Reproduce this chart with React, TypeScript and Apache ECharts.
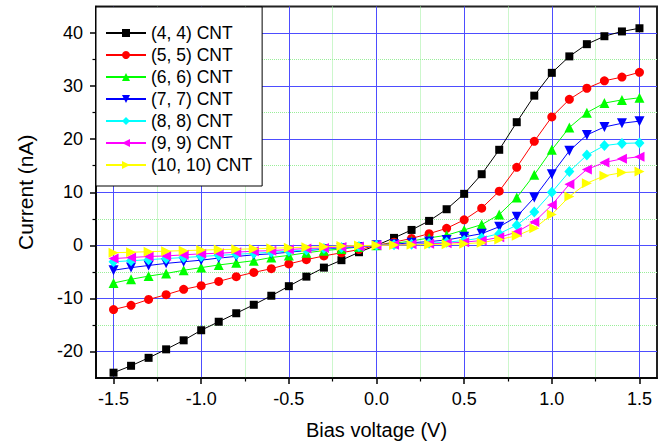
import React, { useEffect, useRef } from 'react';
import * as echarts from 'echarts';

const voltages = [
  -1.5, -1.4, -1.3, -1.2, -1.1, -1.0, -0.9, -0.8, -0.7, -0.6, -0.5, -0.4, -0.3, -0.2, -0.1, 0.0,
  0.1, 0.2, 0.3, 0.4, 0.5, 0.6, 0.7, 0.8, 0.9, 1.0, 1.1, 1.2, 1.3, 1.4, 1.5,
];

const cnt44 = [
  -24.0, -22.7, -21.2, -19.6, -17.9, -16.0, -14.4, -12.8, -11.2, -9.5, -7.7, -5.9, -4.2, -2.8, -1.3, 0.0,
  1.4, 2.9, 4.6, 6.8, 9.7, 13.4, 18.0, 23.2, 28.2, 32.5, 35.6, 37.9, 39.4, 40.3, 40.9,
];
const cnt55 = [
  -12.1, -11.3, -10.2, -9.3, -8.3, -7.6, -6.8, -5.9, -5.1, -4.4, -3.5, -2.7, -2.0, -1.4, -0.8, 0.0,
  0.6, 1.3, 2.2, 3.2, 4.8, 7.0, 10.2, 14.7, 19.6, 24.2, 27.5, 29.6, 31.0, 31.7, 32.6,
];
const cnt66 = [
  -7.1, -6.4, -5.8, -5.3, -4.7, -4.2, -3.7, -3.3, -2.9, -2.3, -1.9, -1.4, -1.0, -0.7, -0.3, 0.0,
  0.4, 0.8, 1.4, 1.9, 2.9, 3.9, 5.8, 9.0, 13.3, 18.0, 22.2, 25.0, 26.8, 27.4, 27.8,
];
const cnt77 = [
  -4.7, -4.2, -3.8, -3.4, -3.1, -2.8, -2.4, -2.1, -1.8, -1.6, -1.3, -1.0, -0.7, -0.5, -0.3, 0.0,
  0.2, 0.5, 0.7, 1.0, 1.6, 2.2, 3.5, 5.4, 9.0, 13.4, 17.8, 20.8, 22.3, 23.0, 23.4,
];
const cnt88 = [
  -3.1, -2.9, -2.7, -2.5, -2.3, -2.1, -1.9, -1.7, -1.5, -1.3, -1.1, -0.9, -0.6, -0.4, -0.2, 0.0,
  0.1, 0.2, 0.4, 0.6, 0.9, 1.4, 2.2, 3.8, 6.3, 10.0, 13.9, 17.0, 18.8, 19.2, 19.3,
];
const cnt99 = [
  -2.5, -2.3, -2.1, -2.0, -1.8, -1.6, -1.5, -1.3, -1.1, -1.0, -0.8, -0.6, -0.5, -0.3, -0.2, 0.0,
  0.1, 0.2, 0.3, 0.4, 0.6, 0.9, 1.5, 2.5, 4.4, 7.6, 11.5, 14.3, 15.6, 16.3, 16.7,
];
const cnt1010 = [
  -1.4, -1.3, -1.2, -1.1, -1.0, -0.9, -0.8, -0.75, -0.65, -0.55, -0.45, -0.35, -0.25, -0.15, -0.05, 0.0,
  0.05, 0.1, 0.15, 0.2, 0.3, 0.5, 1.1, 1.8, 3.2, 5.8, 9.2, 11.7, 13.1, 13.7, 13.9,
];

const seriesNames = ['(4, 4) CNT', '(5, 5) CNT', '(6, 6) CNT', '(7, 7) CNT', '(8, 8) CNT', '(9, 9) CNT', '(10, 10) CNT'];
const seriesValues = [cnt44, cnt55, cnt66, cnt77, cnt88, cnt99, cnt1010];
const seriesColors = ['#000000', '#ff0000', '#00ff00', '#0000ff', '#00ffff', '#ff00ff', '#ffff00'];
const seriesSymbols = [
  'rect',
  'circle',
  'triangle',
  'path://M0,0L10,0L5,9Z',
  'diamond',
  'path://M0,5L9,0L9,10Z',
  'path://M0,0L9,5L0,10Z',
];
const seriesSymbolSizes: any[] = [8, 9, 10, 10, [10, 11], 10, 10];

const majorX = [-1.5, -1.0, -0.5, 0, 0.5, 1.0, 1.5];
const minorX = [-1.25, -0.75, -0.25, 0.25, 0.75, 1.25];
const majorY = [-20, -10, 0, 10, 20, 30, 40];
const minorY = [-15, -5, 5, 15, 25, 35];

const FONT = 'Liberation Sans, Arial, sans-serif';

export default function App() {
  const ref = useRef<HTMLDivElement>(null);

  useEffect(() => {
    if (!ref.current) return;
    const chart = echarts.init(ref.current, undefined, { renderer: 'svg' });

    const series: any[] = seriesNames.map((name, k) => ({
      name,
      type: 'line',
      data: voltages.map((v, i) => [v, seriesValues[k][i]]),
      symbol: seriesSymbols[k],
      symbolSize: seriesSymbolSizes[k],
      showSymbol: true,
      itemStyle: { color: seriesColors[k] },
      lineStyle: { color: seriesColors[k], width: 1 },
      z: 3,
      silent: true,
    }));

    chart.setOption({
      animation: false,
      grid: {
        left: 96,
        right: 12,
        top: 6.5,
        bottom: 67,
        show: true,
        borderColor: '#222',
        borderWidth: 2,
        backgroundColor: 'transparent',
      },
      legend: {
        orient: 'vertical',
        left: 96,
        top: 7,
        itemWidth: 40,
        itemHeight: 10,
        itemGap: 4,
        padding: [17, 10, 12, 9],
        backgroundColor: '#fff',
        borderColor: '#000',
        borderWidth: 1,
        selectedMode: false,
        textStyle: { fontSize: 17.5, fontFamily: FONT, color: '#000' },
        data: seriesNames,
      },
      xAxis: [
        {
          type: 'value',
          min: -1.6,
          max: 1.6,
          position: 'bottom',
          z: 1,
          axisLine: { show: true, onZero: false, lineStyle: { color: '#000', width: 1.5 } },
          axisTick: { show: true, inside: false, length: 6, customValues: majorX, lineStyle: { color: '#000', width: 1.5 } },
          axisLabel: {
            customValues: majorX,
            formatter: (v: number) => v.toFixed(1),
            fontSize: 18,
            fontFamily: FONT,
            color: '#000',
            margin: 12,
          },
          splitLine: { show: true, lineStyle: { color: '#4d4dff', width: 1 } },
          name: 'Bias voltage (V)',
          nameLocation: 'middle',
          nameGap: 42,
          nameTextStyle: { fontSize: 20, fontFamily: FONT, color: '#000' },
        },
        {
          type: 'value',
          min: -1.6,
          max: 1.6,
          position: 'bottom',
          minInterval: 0.25,
          maxInterval: 0.25,
          z: 0,
          axisLine: { show: false, onZero: false },
          axisTick: { show: true, inside: false, length: 3.5, customValues: minorX, lineStyle: { color: '#000', width: 1.2 } },
          axisLabel: { show: false },
          splitLine: { show: true, lineStyle: { color: '#99ee99', width: 1, type: 'dotted' } },
        },
      ],
      yAxis: [
        {
          type: 'value',
          min: -25,
          max: 45,
          position: 'left',
          z: 1,
          axisLine: { show: true, onZero: false, lineStyle: { color: '#000', width: 1.5 } },
          axisTick: { show: true, inside: false, length: 6, customValues: majorY, lineStyle: { color: '#000', width: 1.5 } },
          axisLabel: {
            customValues: majorY,
            formatter: (v: number) => String(v),
            fontSize: 18,
            fontFamily: FONT,
            color: '#000',
            margin: 13,
          },
          splitLine: { show: true, lineStyle: { color: '#4d4dff', width: 1 } },
          name: 'Current (nA)',
          nameLocation: 'middle',
          nameGap: 60,
          nameTextStyle: { fontSize: 21, fontFamily: FONT, color: '#000' },
        },
        {
          type: 'value',
          min: -25,
          max: 45,
          position: 'left',
          minInterval: 5,
          maxInterval: 5,
          z: 0,
          axisLine: { show: false, onZero: false },
          axisTick: { show: true, inside: false, length: 3.5, customValues: minorY, lineStyle: { color: '#000', width: 1.2 } },
          axisLabel: { show: false },
          splitLine: { show: true, lineStyle: { color: '#99ee99', width: 1, type: 'dotted' } },
        },
      ],
      series,
    });

    return () => chart.dispose();
  }, []);

  return (
    <div
      ref={ref}
      style={{ position: 'fixed', left: 0, top: 0, width: 669, height: 445, background: '#fff' }}
    />
  );
}
